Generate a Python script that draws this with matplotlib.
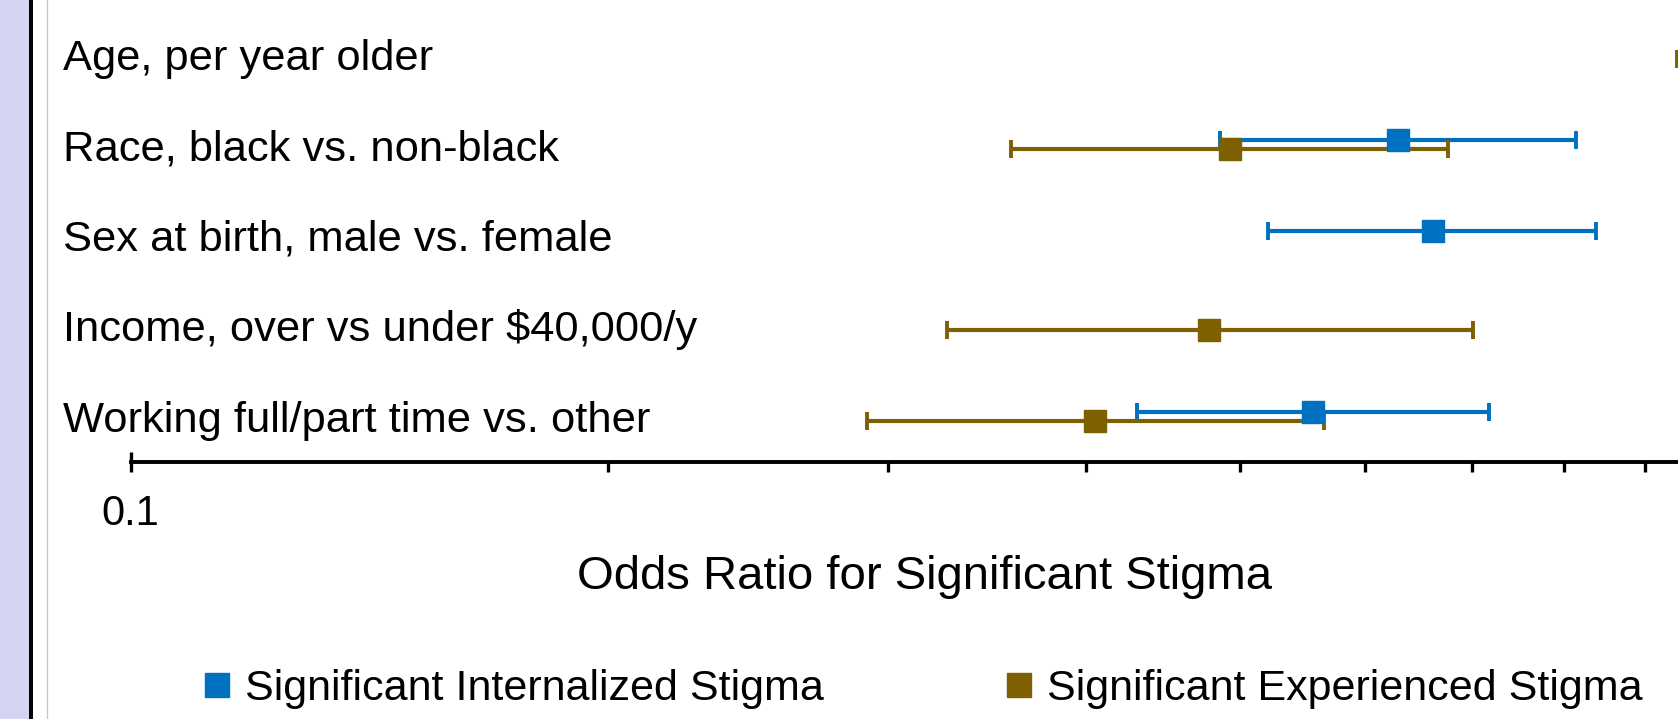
"""
Forest plot: odds ratios for significant internalized / experienced stigma.
Salida: out.png
"""
import matplotlib
matplotlib.use("agg")
import matplotlib.pyplot as plt  # noqa: E402
import numpy as np  # noqa: E402
from matplotlib import transforms  # noqa: E402
from matplotlib.lines import Line2D  # noqa: E402
from matplotlib.patches import Rectangle  # noqa: E402

plt.rcParams["font.family"] = ["Liberation Sans", "DejaVu Sans"]

# --- Datos ---
labels = [
    "Age, per year older",
    "Race, black vs. non-black",
    "Sex at birth, male vs. female",
    "Income, over vs under $40,000/y",
    "Working full/part time vs. other",
]
rows = np.arange(len(labels))

# Significant Internalized Stigma (OR, IC inferior, IC superior)
int_or = np.array([0.99, 0.629, 0.662, np.nan, 0.556])
int_lo = np.array([0.97, 0.486, 0.521, np.nan, 0.431])
int_hi = np.array([1.01, 0.815, 0.838, np.nan, 0.718])

# Significant Experienced Stigma
exp_or = np.array([0.97, 0.493, np.nan, 0.478, 0.405])
exp_lo = np.array([0.943, 0.359, np.nan, 0.327, 0.291])
exp_hi = np.array([1.00, 0.676, np.nan, 0.701, 0.565])

series = [
    ("Significant Internalized Stigma", int_or, int_lo, int_hi, "#0070C0", -0.05),
    ("Significant Experienced Stigma", exp_or, exp_lo, exp_hi, "#7F6000", 0.05),
]

xticks = [0.1, 0.2, 0.3, 0.4, 0.5, 0.6, 0.7, 0.8, 0.9]
xmin, xmax = 0.1, 0.9467

W, H = 1678, 719
fig = plt.figure(figsize=(W / 100, H / 100), dpi=100)

# marco lateral (lavanda + línea negra + línea gris)
fig.patches.append(Rectangle((0, 0), 29 / W, 1, transform=fig.transFigure,
                             facecolor="#D5D5F2", edgecolor="none"))
fig.patches.append(Rectangle((29 / W, 0), 4 / W, 1, transform=fig.transFigure,
                             facecolor="black", edgecolor="none"))
fig.lines.append(Line2D([47 / W, 47 / W], [0, 1], transform=fig.transFigure,
                        color="#C8C8C8", lw=1))

ax_left = 130.7 / W
ax_bottom = (H - 461.7) / H
ax = fig.add_axes([ax_left, ax_bottom, 1 - ax_left + 0.001, 1 - ax_bottom])
ax.set_xscale("log")
ax.set_xlim(xmin, xmax)
ax.set_ylim(len(labels) - 0.5, -0.602)

# barras de error primero, luego marcadores
for name, orv, lo, hi, col, off in series:
    ax.errorbar(orv, rows + off, xerr=[orv - lo, hi - orv], fmt="none",
                ecolor=col, elinewidth=3.0, capsize=6.8, capthick=2.8, zorder=2)
for name, orv, lo, hi, col, off in series:
    ax.plot(orv, rows + off, ls="none", marker="s", ms=15.5, color=col,
            mec=col, zorder=3)

# eje
for s in ("top", "right", "left"):
    ax.spines[s].set_visible(False)
ax.spines["bottom"].set_linewidth(2.8)
ax.set_yticks([])
ax.set_xticks(xticks)
ax.set_xticklabels(["0.1"] + [""] * (len(xticks) - 1))
ax.xaxis.set_minor_locator(matplotlib.ticker.NullLocator())
ax.tick_params(axis="x", direction="out", length=7.5, width=2.4, pad=16,
               labelsize=30)
ax.plot([xmin, xmin], [0, 10 / 461.7], transform=ax.get_xaxis_transform(),
        color="black", lw=2.4, clip_on=False, solid_capstyle="butt")

# etiquetas de filas
tr = transforms.blended_transform_factory(fig.transFigure, ax.transData)
for r, lab in zip(rows, labels):
    ax.text(63 / W, r + 0.168, lab, transform=tr, ha="left", va="baseline",
            fontsize=31.3)

fig.text(925 / W, (H - 589) / H, "Odds Ratio for Significant Stigma",
         ha="center", va="baseline", fontsize=34)

handles = [Line2D([], [], ls="none", marker="s", ms=17.5, color=s[4]) for s in series]
fig.legend(handles, [s[0] for s in series], loc="center left",
           bbox_to_anchor=(204 / W, (H - 689) / H), ncol=2, frameon=False,
           fontsize=31, handlelength=0.6, handletextpad=0.35, columnspacing=4.23,
           borderpad=0, borderaxespad=0)

fig.savefig("out.png", dpi=100)
